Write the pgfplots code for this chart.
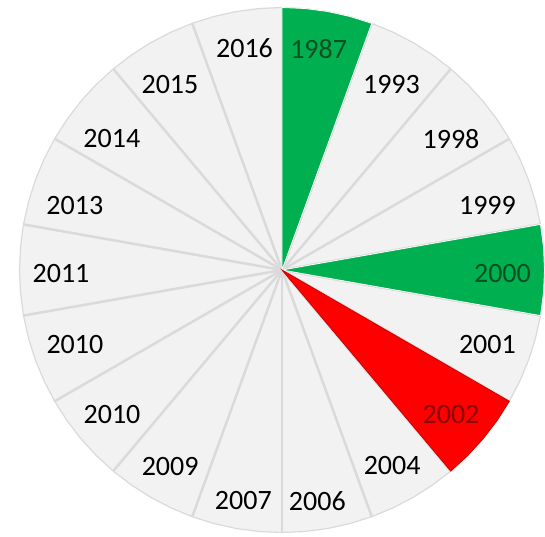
\documentclass[border=0pt]{standalone}
\usepackage{pgfplots}
\pgfplotsset{compat=1.18}
\usepgfplotslibrary{polar}
\usepackage{fontspec}
\setmainfont{Carlito}
\definecolor{sectorgrey}{HTML}{F2F2F2}
\definecolor{divgrey}{HTML}{DADADA}
\definecolor{xlgreen}{HTML}{00B050}
\definecolor{xlred}{HTML}{FF0000}
\definecolor{darkgreentext}{HTML}{0B4F22}
\definecolor{darkredtext}{HTML}{8B0000}
\tikzset{lbl/.style={font=\fontsize{28}{30}\selectfont, text=black, inner sep=0pt}}
\begin{document}
\begin{tikzpicture}
\path[use as bounding box] (0pt,0pt) rectangle (545pt,536pt);
\begin{polaraxis}[
  at={(282pt,266pt)}, anchor=center,
  width=525pt, height=525pt, scale only axis,
  hide axis, clip=false,
  xmin=0, xmax=360, ymin=0, ymax=1,
]
% grey disk
\addplot[fill=sectorgrey, draw=divgrey, line width=1.2pt] coordinates {
(0,1) (5,1) (10,1) (15,1) (20,1) (25,1) (30,1) (35,1) (40,1) (45,1) (50,1) (55,1)
(60,1) (65,1) (70,1) (75,1) (80,1) (85,1) (90,1) (95,1) (100,1) (105,1) (110,1) (115,1)
(120,1) (125,1) (130,1) (135,1) (140,1) (145,1) (150,1) (155,1) (160,1) (165,1) (170,1) (175,1)
(180,1) (185,1) (190,1) (195,1) (200,1) (205,1) (210,1) (215,1) (220,1) (225,1) (230,1) (235,1)
(240,1) (245,1) (250,1) (255,1) (260,1) (265,1) (270,1) (275,1) (280,1) (285,1) (290,1) (295,1)
(300,1) (305,1) (310,1) (315,1) (320,1) (325,1) (330,1) (335,1) (340,1) (345,1) (350,1) (355,1)
} -- cycle;
% dividers
\addplot[draw=divgrey, line width=2.5pt] coordinates {(90,1) (270,1)};
\addplot[draw=divgrey, line width=2.5pt] coordinates {(70,1) (250,1)};
\addplot[draw=divgrey, line width=2.5pt] coordinates {(50,1) (230,1)};
\addplot[draw=divgrey, line width=2.5pt] coordinates {(30,1) (210,1)};
\addplot[draw=divgrey, line width=2.5pt] coordinates {(10,1) (190,1)};
\addplot[draw=divgrey, line width=2.5pt] coordinates {(-10,1) (170,1)};
\addplot[draw=divgrey, line width=2.5pt] coordinates {(-30,1) (150,1)};
\addplot[draw=divgrey, line width=2.5pt] coordinates {(-50,1) (130,1)};
\addplot[draw=divgrey, line width=2.5pt] coordinates {(-70,1) (110,1)};
% highlighted sectors
\addplot[fill=xlgreen, draw=white, line width=0.8pt] coordinates {
(90,0) (90,1) (85,1) (80,1) (75,1) (70,1) (70,0)} -- cycle;
\addplot[fill=xlgreen, draw=white, line width=0.8pt] coordinates {
(10,0) (10,1) (5,1) (0,1) (-5,1) (-10,1) (-10,0)} -- cycle;
\addplot[fill=xlred, draw=red!80!black, line width=0.8pt] coordinates {
(-30,0) (-30,1) (-35,1) (-40,1) (-45,1) (-50,1) (-50,0)} -- cycle;
% labels
\node[lbl, text=darkgreentext] at (axis cs:80.6,0.855) {1987};
\node[lbl] at (axis cs:59.4,0.819) {1993};
\node[lbl] at (axis cs:37.8,0.815) {1998};
\node[lbl] at (axis cs:17.55,0.821) {1999};
\node[lbl, text=darkgreentext] at (axis cs:-1,0.84) {2000};
\node[lbl] at (axis cs:-20.05,0.833) {2001};
\node[lbl, text=darkredtext] at (axis cs:-40.6,0.848) {2002};
\node[lbl] at (axis cs:-60.6,0.855) {2004};
\node[lbl] at (axis cs:-81.3,0.89) {2006};
\node[lbl] at (axis cs:-99.5,0.892) {2007};
\node[lbl] at (axis cs:-119.7,0.86) {2009};
\node[lbl] at (axis cs:-139.7,0.849) {2010};
\node[lbl] at (axis cs:-160.1,0.839) {2010};
\node[lbl] at (axis cs:181,0.842) {2011};
\node[lbl] at (axis cs:162.6,0.827) {2013};
\node[lbl] at (axis cs:142.4,0.818) {2014};
\node[lbl] at (axis cs:121.2,0.824) {2015};
\node[lbl] at (axis cs:99.6,0.856) {2016};
\end{polaraxis}
\end{tikzpicture}
\end{document}
